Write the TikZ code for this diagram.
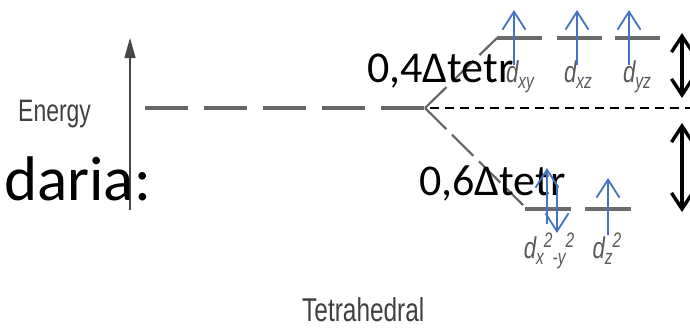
\documentclass[tikz,border=0pt]{standalone}
\usepackage{fontspec}
\setmainfont{Carlito}
\newfontfamily\narrowsf[FakeStretch=0.74]{Liberation Sans}
\usetikzlibrary{arrows.meta}
\definecolor{spinblue}{RGB}{68,114,196}
\newcommand\orbsub[1]{\raisebox{-6pt}{\fontsize{21}{21}\selectfont #1}}
\newcommand\orbsup[1]{\raisebox{11pt}{\fontsize{21}{21}\selectfont #1}}

\begin{document}
\begin{tikzpicture}[x=1pt, y=-1pt, line join=round,
  level/.style={line width=3.5pt, draw=black!58},
  link/.style={line width=2.2pt, draw=black!60, dash pattern=on 30pt off 8pt},
  spin/.style={line width=1.8pt, draw=spinblue, -{Straight Barb[length=18pt,width=23pt]}},
  gap/.style={line width=3.4pt, {Straight Barb[length=16pt,width=21pt]}-{Straight Barb[length=16pt,width=21pt]}},
  orb/.style={anchor=base, inner sep=0pt, text=black!65, font=\narrowsf\itshape\fontsize{30}{30}\selectfont},
  big/.style={anchor=base west, inner sep=0pt, font=\fontsize{44}{44}\selectfont}]
\useasboundingbox (0,0) rectangle (690,327);
\coordinate (split) at (425,108);
\coordinate (top) at (497,38);
\coordinate (bot) at (523,205);
\draw[-{Triangle[length=20pt,width=11pt]}, line width=1.3pt, black!72] (130,210) -- (130,38);
\node[anchor=base west, inner sep=0pt, text=black!75, font=\narrowsf\fontsize{31}{31}\selectfont] (energy) at (18,121) {Energy};
\draw[line width=3.5pt, black!60, dash pattern=on 43pt off 16pt] (145,108) -- (split);
\draw[link] (split) -- (top);
\draw[link] (split) -- (bot);
\foreach \x in {497,557,615} \draw[level] (\x,38) -- ++(45,0);
\foreach \x in {525,585} \draw[level] (\x,209) -- ++(46,0);
\node[orb] (dxy) at (520,82) {d\orbsub{xy}};
\node[orb] (dxz) at (578,82) {d\orbsub{xz}};
\node[orb] (dyz) at (637,82) {d\orbsub{yz}};
\node[orb] (dx2y2) at (549,258) {d\orbsub{x}\orbsup{2}\orbsub{-y}\orbsup{2}};
\node[orb] (dz2) at (607,258) {d\orbsub{z}\orbsup{2}};
\node[anchor=base west, inner sep=0pt, text=black!75, font=\narrowsf\fontsize{33}{33}\selectfont] (tetra) at (302,321) {Tetrahedral};
\draw[line width=1.8pt, dash pattern=on 9pt off 6pt] (split) ++(5,0) -- (690,108);
\draw[gap] (682,33) -- (682,98);
\draw[gap] (682,123) -- (682,212);
\node[big] (up) at (367,82) {0,4Δtetr};
\node[big] (down) at (419,195) {0,6Δtetr};
\node[anchor=base west, inner sep=0pt, font=\fontsize{63}{63}\selectfont] (daria) at (4,200) {daria:};
\draw[spin] (514,65) -- (514,10);
\draw[spin] (577,65) -- (577,10);
\draw[spin] (629,65) -- (629,10);
\draw[spin] (547,224) -- (547,168);
\draw[spin] (557,188) -- (557,233);
\draw[spin] (608,235) -- (608,178);
\end{tikzpicture}
\end{document}
